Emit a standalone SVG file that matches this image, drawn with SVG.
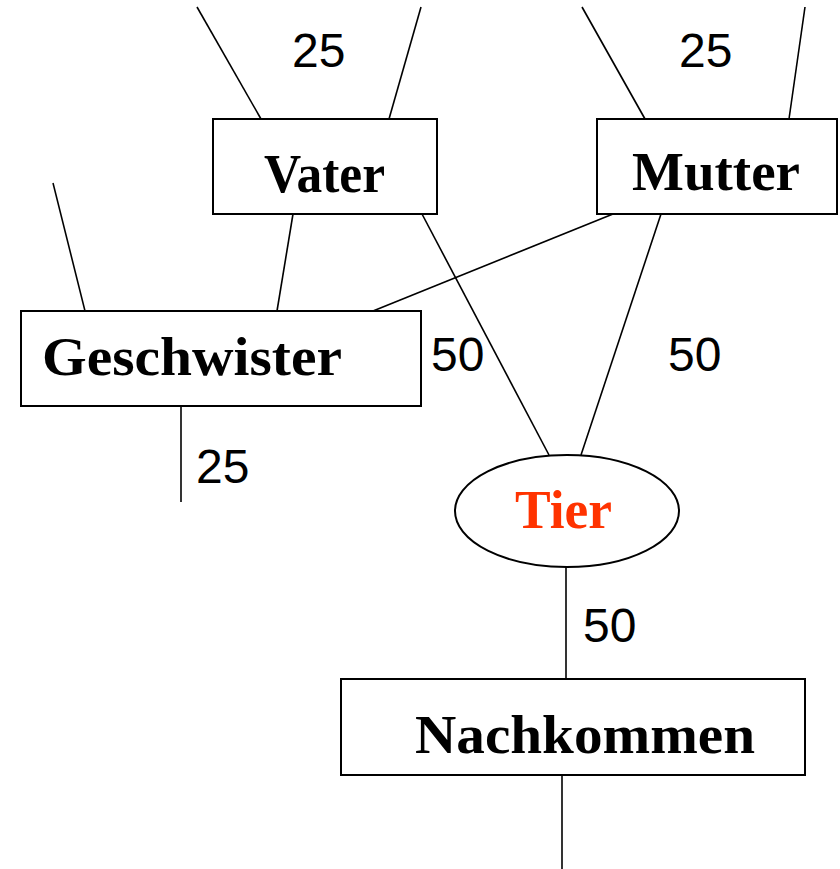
<svg xmlns="http://www.w3.org/2000/svg" width="840" height="869" viewBox="0 0 840 869">
<style>
.box{fill:#fff;stroke:#000;stroke-width:2}
.ln{stroke:#000;stroke-width:1.6;fill:none}
.nt{font-family:"Liberation Serif","Times New Roman",serif;font-weight:bold;font-size:55px;fill:#000}
.lb{font-family:"Liberation Sans",Arial,sans-serif;font-size:48px;fill:#000}
</style>
<rect width="840" height="869" fill="#fff"/>
<g id="connectors">
<line class="ln" x1="197" y1="7" x2="261" y2="119"/>
<line class="ln" x1="421" y1="7" x2="389" y2="119"/>
<line class="ln" x1="582" y1="7" x2="645" y2="119"/>
<line class="ln" x1="805" y1="7" x2="789" y2="119"/>
<line class="ln" x1="53" y1="183" x2="85" y2="311"/>
<line class="ln" x1="293" y1="214" x2="277" y2="311"/>
<line class="ln" x1="613" y1="214" x2="373" y2="311"/>
<line class="ln" x1="422" y1="214" x2="549" y2="455"/>
<line class="ln" x1="661" y1="214" x2="581" y2="455"/>
<line class="ln" x1="181" y1="406" x2="181" y2="502"/>
<line class="ln" x1="566" y1="567" x2="566" y2="678"/>
<line class="ln" x1="562" y1="775" x2="562" y2="869"/>
</g>
<g id="labels">
<text class="lb" x="292" y="67">25</text>
<text class="lb" x="679" y="67">25</text>
<text class="lb" x="431" y="371">50</text>
<text class="lb" x="668" y="371">50</text>
<text class="lb" x="196" y="483">25</text>
<text class="lb" x="583" y="642">50</text>
</g>
<g id="vater">
<rect class="box" x="213" y="119" width="224" height="95"/>
<text class="nt" x="264" y="192" textLength="121" lengthAdjust="spacingAndGlyphs">Vater</text>
</g>
<g id="mutter">
<rect class="box" x="597" y="119" width="240" height="95"/>
<text class="nt" x="632" y="190" textLength="168" lengthAdjust="spacingAndGlyphs">Mutter</text>
</g>
<g id="geschwister">
<rect class="box" x="21" y="311" width="400" height="95"/>
<text class="nt" x="42" y="375" textLength="300" lengthAdjust="spacingAndGlyphs">Geschwister</text>
</g>
<g id="tier">
<ellipse class="box" cx="567" cy="511" rx="112" ry="56"/>
<text class="nt" x="515" y="528" textLength="97" lengthAdjust="spacingAndGlyphs" style="fill:#FF3300">Tier</text>
</g>
<g id="nachkommen">
<rect class="box" x="341" y="679" width="464" height="96"/>
<text class="nt" x="415" y="753" textLength="340" lengthAdjust="spacingAndGlyphs">Nachkommen</text>
</g>
</svg>
